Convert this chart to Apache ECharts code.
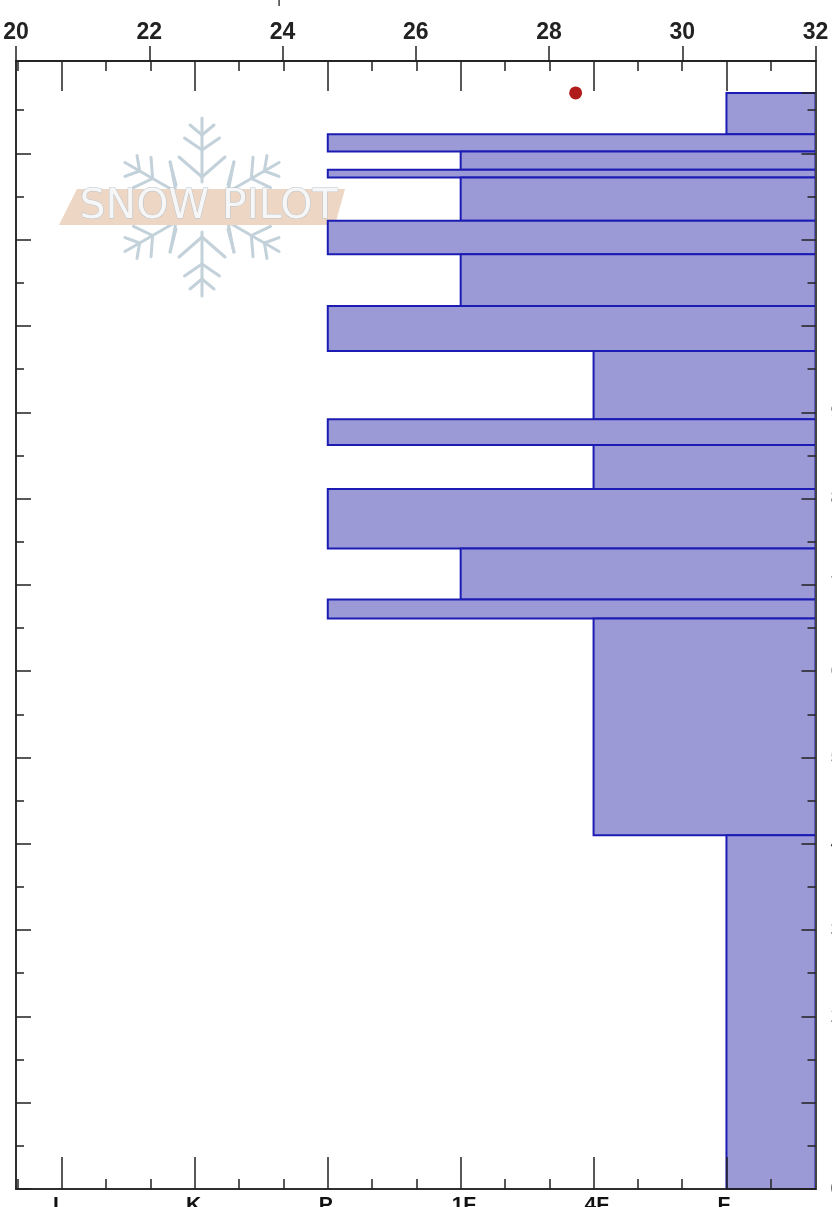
<!DOCTYPE html>
<html><head><meta charset="utf-8">
<style>html,body{margin:0;padding:0;background:#fff;overflow:hidden}#c{width:832px;height:1207px}</style>
<script src="https://cdn.jsdelivr.net/npm/echarts@6/dist/echarts.min.js"></script>
</head><body><div id="c"></div>
<script>
// ---- data ----
const hardnessLabels = ['I','K','P','1F','4F','F'];
const hardnessValues = [1,2,3,4,5,6];
const hardnessMinor = [0.667,1.333,1.667,2.333,2.667,3.333,3.667,4.333,4.667,5.333,5.667,6.333];
const layerTops    = [127,122.2,120.2,118.1,117.2,112.2,108.3,102.3,97.1,89.2,86.2,81.1,74.2,68.3,66.1,41];
const layerBottoms = [122.2,120.2,118.1,117.2,112.2,108.3,102.3,97.1,89.2,86.2,81.1,74.2,68.3,66.1,41,0];
const layerHardness= [6,3,4,3,4,3,4,3,5,3,5,3,4,3,5,6];
const tempReadings = [[28.4,127]];
const depthMajor = [0,10,20,30,40,50,60,70,80,90,100,110,120];
const depthMinor = [5,15,25,35,45,55,65,75,85,95,105,115,125];
const snowSurface = [127];

const ink = '#222';
const tickStyle = {color: ink, width: 1.5};
const TMIN = 20, TMAX = 32, HMIN = 0.654, HMAX = 6.67, DMAX = 130.7;

function hAxis(pos, ticks, len, extra){
  return Object.assign({
    type:'value', position:pos, min:HMIN, max:HMAX, z:6,
    splitLine:{show:false},
    axisLine:{show:true, onZero:false, lineStyle:{color:ink,width:1.5}},
    axisTick:{show:true, inside:true, length:len, customValues:ticks, lineStyle:tickStyle},
    axisLabel:{show:false}
  }, extra||{});
}
function dAxis(pos, ticks, len, extra){
  return Object.assign({
    type:'value', position:pos, min:0, max:DMAX, z:6,
    splitLine:{show:false},
    axisLine:{show:true, onZero:false, lineStyle:{color:pos==='right'?'#444':ink,width:pos==='right'?2:1.5}},
    axisTick:{show:true, inside:true, length:len, customValues:ticks, lineStyle:tickStyle},
    axisLabel:{show:false}
  }, extra||{});
}

const xAxes = [
  {type:'value', position:'top', min:TMIN, max:TMAX, interval:2, z:6, splitLine:{show:false},
   axisLine:{show:true,onZero:false,lineStyle:{color:ink,width:1.5}},
   axisTick:{show:true,inside:false,length:15,lineStyle:tickStyle},
   axisLabel:{show:true,margin:17,color:'#222',fontFamily:'Liberation Sans Narrow, Liberation Sans',fontWeight:'bold',fontSize:23,
     hideOverlap:false,showMinLabel:true,showMaxLabel:true}},
  hAxis('bottom', hardnessValues, 32, {
    axisLabel:{show:true, customValues:hardnessValues, margin:6, align:'left', verticalAlign:'top',
      padding:[0,0,0,-9], color:'#111', fontFamily:'Liberation Sans', fontWeight:'bold', fontSize:21,
      formatter:v=>hardnessLabels[hardnessValues.indexOf(Math.round(v))]}
  }),
  hAxis('bottom', hardnessMinor, 10),
  hAxis('top', hardnessValues, 30),
  hAxis('top', hardnessMinor, 10)
];
const yAxes = [
  dAxis('left', depthMajor, 15),
  dAxis('left', depthMinor, 8),
  dAxis('right', depthMajor.concat(snowSurface), 14, {
    axisLabel:{show:true, customValues:depthMajor, inside:false, margin:15, align:'left', color:'#333',
      fontFamily:'Liberation Sans', fontSize:20}
  }),
  dAxis('right', depthMinor, 8)
];

// watermark
const flakeColor = '#c3d1da';
const cx = 202, cy = 207;
const flake = [];
function seg(a, x1, y1, x2, y2){
  const r = a*Math.PI/180, c = Math.cos(r), s = Math.sin(r);
  flake.push({type:'line', z:1, silent:true,
    shape:{x1:cx+x1*c+y1*s, y1:cy+x1*s-y1*c, x2:cx+x2*c+y2*s, y2:cy+x2*s-y2*c},
    style:{stroke:flakeColor, lineWidth:3, lineCap:'round'}});
}
[0,60,120,180,240,300].forEach(a=>{
  seg(a,0,25,0,89);
  [[72,82,12],[57,69,17.5],[30,50,23]].forEach(b=>{
    seg(a,0,b[0],-b[2],b[1]); seg(a,0,b[0],b[2],b[1]);
  });
});
[[-26,-22,-32,-45],[26,-22,32,-45],[-26,22,-32,45],[26,22,32,45]].forEach(p=>{
  flake.push({type:'line', z:1, silent:true, shape:{x1:cx+p[0],y1:cy+p[1],x2:cx+p[2],y2:cy+p[3]},
    style:{stroke:flakeColor,lineWidth:3,lineCap:'round'}});
});

const graphics = flake.concat([
  {type:'polygon', z:1, silent:true, shape:{points:[[77,189],[345,189],[335,225],[59,225]]}, style:{fill:'#eed6c4'}},
  {type:'text', z:1, silent:true, x:208.5, y:207.5, style:{text:'SNOW PILOT', fontFamily:'DejaVu Sans', fontSize:41,
    align:'center', verticalAlign:'middle', fill:'#f6f6f6', stroke:'#b9c4cc', lineWidth:1}},
  {type:'text', z:9, silent:true, x:35, y:0, style:{text:'p', fontFamily:'Liberation Sans', fontWeight:'bold', fontSize:22,
    align:'center', verticalAlign:'bottom', fill:'#222'}},
  {type:'text', z:9, silent:true, x:279, y:-9, style:{text:'|', fontFamily:'Liberation Sans', fontSize:16,
    align:'center', verticalAlign:'top', fill:'#222'}}
]);

const layers = layerTops.map((t,i)=>[layerHardness[i], t, layerBottoms[i]]);

const chart = echarts.init(document.getElementById('c'), null, {renderer:'canvas', width:832, height:1207});
chart.setOption({
  animation:false,
  backgroundColor:'#fff',
  grid:{left:16, right:16.5, top:61, bottom:18, containLabel:false, outerBoundsMode:'none'},
  xAxis:xAxes,
  yAxis:yAxes,
  graphic:graphics,
  series:[
    {type:'custom', xAxisIndex:1, yAxisIndex:0, z:2, silent:true, clip:false,
     encode:{x:0,y:[1,2]}, data:layers,
     renderItem:function(params, api){
       const a = api.coord([api.value(0), api.value(1)]);
       const b = api.coord([HMAX, api.value(2)]);
       return {type:'rect', shape:{x:a[0], y:a[1], width:b[0]-a[0], height:b[1]-a[1]},
         style:{fill:'#9b9ad6', stroke:'#1c1cb4', lineWidth:2}};
     }},
    {type:'scatter', xAxisIndex:0, yAxisIndex:0, z:3, symbol:'circle', symbolSize:13, silent:true,
     itemStyle:{color:'#b01c1c', opacity:1}, data:tempReadings}
  ]
});
</script></body></html>
